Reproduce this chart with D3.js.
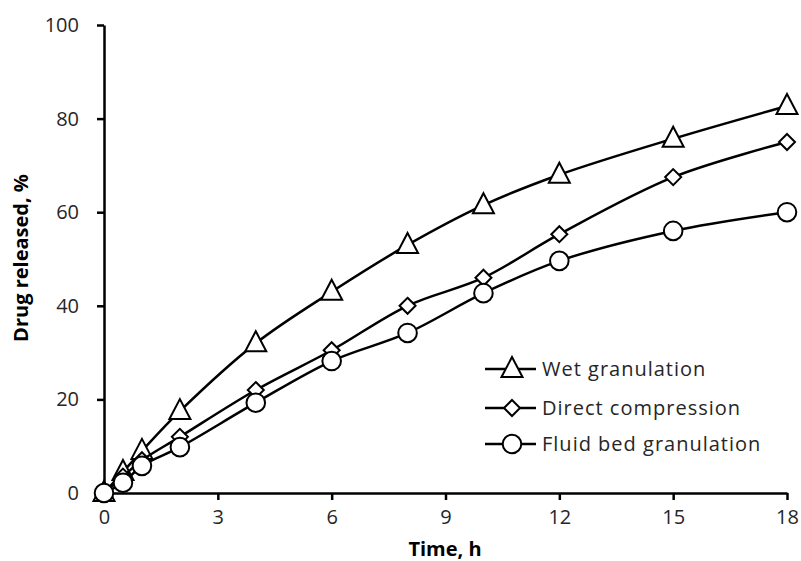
<!DOCTYPE html>
<html>
<head>
<meta charset="utf-8">
<script src="https://cdn.jsdelivr.net/npm/d3@7"></script>
<style>
  body { margin: 0; background: #fff; }
  svg { display: block; }
  text { font-family: "Open Sans", "Liberation Sans", sans-serif; }
</style>
</head>
<body>
<svg id="chart" width="801" height="561"></svg>
<script>
// Sampling times (h)
const times = [0, 0.5, 1, 2, 4, 6, 8, 10, 12, 15, 18];

// Cumulative drug release (%) for each formulation method
const wetGranulation      = [0, 4.5, 9, 17.5, 32, 43, 53, 61.5, 68, 75.7, 82.7];
const directCompression   = [0, 3.5, 7, 12, 22, 30.5, 40, 46, 55.3, 67.5, 75];
const fluidBedGranulation = [0, 2.2, 5.8, 9.8, 19.3, 28.2, 34.2, 42.7, 49.6, 56, 60];

const xTicks = [0, 3, 6, 9, 12, 15, 18];
const yTicks = [0, 20, 40, 60, 80, 100];

const seriesNames  = ["Wet granulation", "Direct compression", "Fluid bed granulation"];
const seriesShapes = ["triangle", "diamond", "circle"];

const series = [wetGranulation, directCompression, fluidBedGranulation].map((vals, i) => ({
  name: seriesNames[i],
  shape: seriesShapes[i],
  points: vals.map((v, j) => ({ t: times[j], v }))
}));

const svg = d3.select("#chart");
const x = d3.scaleLinear().domain([0, 18]).range([104, 787]);
const y = d3.scaleLinear().domain([0, 100]).range([493, 25]);

// Axes
const xAxis = svg.append("g").attr("transform", `translate(0,${y(0)})`)
  .call(d3.axisBottom(x).tickValues(xTicks).tickSize(7).tickSizeOuter(0).tickPadding(10));
const yAxis = svg.append("g").attr("transform", `translate(${x(0)},0)`)
  .call(d3.axisLeft(y).tickValues(yTicks).tickSize(7).tickSizeOuter(0).tickPadding(18));

[xAxis, yAxis].forEach(g => {
  g.select(".domain").attr("stroke", "#000").attr("stroke-width", 2.5);
  g.selectAll(".tick line").attr("stroke", "#000").attr("stroke-width", 2.5);
  g.selectAll(".tick text")
    .attr("fill", "#262626")
    .attr("font-size", 20)
    .style("font-family", "'Open Sans', sans-serif");
});

// Axis titles
svg.append("text")
  .attr("x", 445).attr("y", 556)
  .attr("text-anchor", "middle")
  .attr("font-size", 20).attr("font-weight", "bold").attr("fill", "#000")
  .text("Time, h");

svg.append("text")
  .attr("transform", "translate(28,258) rotate(-90)")
  .attr("text-anchor", "middle")
  .attr("font-size", 20).attr("font-weight", "bold").attr("fill", "#000")
  .text("Drug released, %");

// Marker drawing helper
function drawMarker(g, shape, cx, cy) {
  if (shape === "triangle") {
    const h = 20, w = 21;
    g.append("path")
      .attr("d", `M${cx},${cy - h * 0.6} L${cx + w / 2},${cy + h * 0.4} L${cx - w / 2},${cy + h * 0.4} Z`)
      .attr("fill", "#fff").attr("stroke", "#000").attr("stroke-width", 2);
  } else if (shape === "diamond") {
    const r = 8;
    g.append("path")
      .attr("d", `M${cx},${cy - r} L${cx + r},${cy} L${cx},${cy + r} L${cx - r},${cy} Z`)
      .attr("fill", "#fff").attr("stroke", "#000").attr("stroke-width", 2);
  } else {
    g.append("circle").attr("cx", cx).attr("cy", cy).attr("r", 9.3)
      .attr("fill", "#fff").attr("stroke", "#000").attr("stroke-width", 2);
  }
}

const line = d3.line()
  .x(d => x(d.t))
  .y(d => y(d.v))
  .curve(d3.curveCatmullRom.alpha(0.5));

// Series: line first, then markers on top
series.forEach(s => {
  const g = svg.append("g");
  g.append("path")
    .datum(s.points)
    .attr("d", line)
    .attr("fill", "none")
    .attr("stroke", "#000")
    .attr("stroke-width", 2.5);
  s.points.forEach(p => drawMarker(g, s.shape, x(p.t), y(p.v)));
});

// Legend
const legendRows = [369, 408, 444];
series.forEach((s, i) => {
  const g = svg.append("g");
  const ly = legendRows[i];
  g.append("line").attr("x1", 485).attr("x2", 536).attr("y1", ly).attr("y2", ly)
    .attr("stroke", "#000").attr("stroke-width", 2.5);
  drawMarker(g, s.shape, 512, ly);
  g.append("text").attr("x", 542).attr("y", ly + 7)
    .attr("font-size", 20).attr("letter-spacing", 1).attr("fill", "#262626")
    .text(s.name);
});
</script>
</body>
</html>
